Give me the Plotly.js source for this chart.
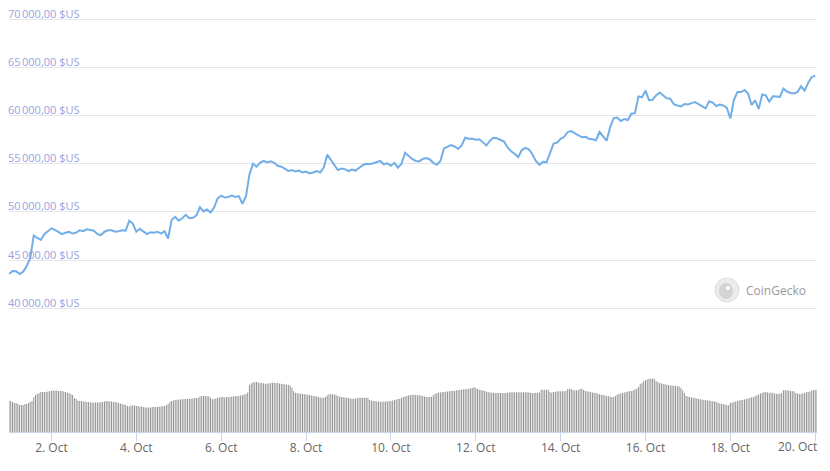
<!DOCTYPE html>
<html>
<head>
<meta charset="utf-8">
<script src="https://cdn.plot.ly/plotly-3.0.1.min.js"></script>
<style>html,body{margin:0;padding:0;background:#fff;}#chart{width:830px;height:471px;}</style>
</head>
<body>
<div id="chart"></div>
<script>
// Start of series: 1 Oct 2021 00:00 (UTC), price sampled every 2 hours, volume every hour
const startTime = '2021-10-01T00:00:00';
const priceStepHours = 2;
const volumeStepHours = 1;

// BTC price in USD, every 2 hours from 1 Oct 00:00 to 20 Oct 00:00
const priceValues = [
  // 1 Oct
  43550, 43880, 43850, 43550, 43800, 44400, 45200, 47550, 47300, 47100, 47700, 48000,
  // 2 Oct
  48300, 48150, 47900, 47700, 47850, 47930, 47760, 47850, 48100, 48000, 48200, 48150,
  // 3 Oct
  48050, 47700, 47600, 47950, 48100, 48100, 47950, 48000, 48100, 48050, 49100, 48800,
  // 4 Oct
  47950, 48250, 48000, 47700, 47900, 47850, 47950, 47750, 48000, 47250, 49200, 49500,
  // 5 Oct
  49100, 49350, 49700, 49350, 49400, 49650, 50500, 50050, 50250, 49950, 50450, 51400,
  // 6 Oct
  51700, 51500, 51550, 51700, 51550, 51650, 50850, 51600, 53900, 55000, 54700, 55100,
  // 7 Oct
  55300, 55150, 55250, 55100, 54800, 54700, 54500, 54250, 54350, 54200, 54300, 54100,
  // 8 Oct
  54200, 54000, 54100, 54250, 54100, 54600, 55950, 55450, 54900, 54350, 54500, 54450,
  // 9 Oct
  54250, 54400, 54300, 54550, 54850, 55000, 54950, 55050, 55200, 55300, 54950, 55050,
  // 10 Oct
  54800, 55100, 54600, 55000, 56150, 55800, 55500, 55300, 55250, 55500, 55600, 55450,
  // 11 Oct
  55100, 54900, 55300, 56600, 56750, 56950, 56800, 56550, 56900, 57700, 57600, 57600,
  // 12 Oct
  57500, 57550, 57250, 56900, 57400, 57700, 57650, 57450, 57300, 56700, 56300, 56050,
  // 13 Oct
  55700, 56400, 56650, 56500, 56000, 55300, 54900, 55200, 55150, 56100, 57100, 57200,
  // 14 Oct
  57600, 57800, 58300, 58400, 58200, 58000, 57750, 57800, 57600, 57550, 57450, 58300,
  // 15 Oct
  57800, 57400, 58800, 59750, 59800, 59450, 59650, 59550, 60200, 60250, 62000, 61900,
  // 16 Oct
  62600, 61600, 61650, 62100, 62400, 62050, 61800, 61750, 61200, 61050, 60950, 61200,
  // 17 Oct
  61150, 61300, 61400, 61200, 61000, 60750, 61500, 61350, 61000, 61150, 61050, 60800,
  // 18 Oct
  59700, 61650, 62450, 62450, 62650, 62300, 61100, 61600, 60700, 62200, 62100, 61450,
  // 19 Oct
  62000, 62000, 61950, 62800, 62500, 62350, 62300, 62450, 63050, 62600, 63400, 64000,
  // 20 Oct
  64150
];

// Hourly trading volume (relative units)
const volumeValues = [
  // 1 Oct
  31,31,30,29,29,28,27,27,27,28,28,29,30,31,35,37,38,39,40,40,40,40,40.5,41,
  // 2 Oct
  41,41.5,41.5,41.5,41,41,41,40.5,40,39.5,39,38,37,34,33,31.5,31,31,30.5,30.5,30,30,29.5,29.5,
  // 3 Oct
  29.5,29.5,29.5,29.5,30,30,30.5,31,31,30.5,30.5,30,30,29.5,29,28.5,28,27.5,27,26,25.5,26.5,26.5,26.5,
  // 4 Oct
  26,26,25.5,25.5,25,24.5,24.5,24.5,24.5,25,25,25,25,25.5,25.5,26,26,27,28,30,31,31.5,32,32.3,
  // 5 Oct
  32.5,32.5,32.7,33,33,33,33.3,33.3,33.5,34,34,34,35.5,36,36,36,35.7,35.7,34,32.7,33,33.5,34.3,34.5,
  // 6 Oct
  35,35,34.5,35,35,35,35.5,35.5,36,36,36,36.5,37,37.5,38,39.5,47,48.5,49.5,50,50,49.5,49,49,
  // 7 Oct
  48.5,48.3,48.3,48.5,49,49.3,49.3,49,49,48.5,48.3,48,47.5,47.5,47.3,46.5,44.3,41,39.3,39,38.5,38.3,38,38,
  // 8 Oct
  37.5,37.3,37,36.5,36,36,35.5,35,34.5,34.3,34.3,35,36.5,37.7,37.7,37.7,37.5,37.3,36,35.5,35,35,34.5,34.3,
  // 9 Oct
  34,33.5,33.3,33.3,33.5,34,34.3,34.3,34.3,34.3,34.3,34,32,31.5,31,31,30.5,30.5,30.3,30.3,30.3,30.5,30.7,30.7,
  // 10 Oct
  31,31.5,32,32.5,33,33.3,34,35,35.5,36,36.5,37,37.3,37.3,37,37,36.7,36.5,36,35.5,35,35,35,35,
  // 11 Oct
  37,38.3,39,39.5,39.5,40,40,40.3,40.5,40.7,41,41,41.3,41.7,41.7,42,42.3,42.7,42.7,43,43.3,43.5,44,45,
  // 12 Oct
  44,43,42.3,42,41.5,41,40.5,40,39.5,39.3,39.3,39,39,39,39,39,39,39,39.3,39.5,39.7,39.7,39.7,39.7,
  // 13 Oct
  39.7,39.7,39.7,39.7,39.7,39.7,39.5,39.3,39,39,39.3,39.3,39.5,42.3,42.3,42.3,42.3,42.3,40,39.3,40,40.3,40.7,40.7,
  // 14 Oct
  40.7,40.7,40.7,41,43,43.3,43,42,41.7,41.7,42,43.3,43.3,42,41,40.7,40.3,40,39.5,39.3,39,38.3,37.7,37.3,
  // 15 Oct
  37,36.5,36,35.7,35.3,35,35,36,37.3,38,38.5,39,39.5,40,40.5,40.7,41,41.5,42.5,43.3,45,47.7,49,51,
  // 16 Oct
  51.7,52.5,53.3,53.3,53.3,53.3,51,50,49,48.5,48,47.7,47.3,47,46.7,46.5,46.3,46,45.7,45.5,44,41.7,39,36,
  // 17 Oct
  35.5,35,34.5,34.3,34,33.5,33,32.7,32.5,32,31.7,31.7,31.5,31,30.7,30.7,30,29.5,28.5,28.3,28,27.5,27,26.7,
  // 18 Oct
  29,29.5,30,30.5,31,31.5,32,32.3,32.5,33,33.5,34,34.5,35,36,36.7,37.5,38.5,39,40,40,39.5,39.3,39.3,
  // 19 Oct
  39,38.5,38.3,38.3,38.3,39,41.7,41.7,41.7,41.5,41,41,40.5,39,38.5,38.3,38.3,38.5,39,40,40,40.5,41.5,41.7,
  // 20 Oct
  42.3,42.3
];

const priceTickValues = [40000, 45000, 50000, 55000, 60000, 65000, 70000];
const xTickDates = ['2021-10-02', '2021-10-04', '2021-10-06', '2021-10-08', '2021-10-10',
                    '2021-10-12', '2021-10-14', '2021-10-16', '2021-10-18', '2021-10-20'];
const xTickLabels = ['2. Oct', '4. Oct', '6. Oct', '8. Oct', '10. Oct',
                     '12. Oct', '14. Oct', '16. Oct', '18. Oct', '20. Oct'];

function fmtPrice(v) {
  const s = String(Math.round(v));
  const withSep = s.replace(/\B(?=(\d{3})+(?!\d))/g, '\u202f');
  return withSep + ',00 $US';
}
function timeAt(hoursFromStart) {
  const t0 = Date.parse(startTime + 'Z');
  const d = new Date(t0 + hoursFromStart * 3600 * 1000);
  return d.toISOString().slice(0, 19).replace('T', ' ');
}

const priceX = priceValues.map((_, i) => timeAt(i * priceStepHours));
const volumeX = volumeValues.map((_, i) => timeAt(i * volumeStepHours));

const traces = [
  {
    type: 'bar', x: volumeX, y: volumeValues, xaxis: 'x', yaxis: 'y2',
    marker: {color: '#8f8f8f', line: {width: 0}}, hoverinfo: 'skip'
  },
  {
    type: 'scatter', mode: 'lines', x: priceX, y: priceValues, xaxis: 'x', yaxis: 'y',
    line: {color: '#72aee8', width: 2}, hoverinfo: 'skip'
  }
];

// price axis labels drawn inside the plot, above their grid lines
const priceLabelAnnotations = priceTickValues.map(v => ({
  xref: 'paper', yref: 'y', x: 0, y: v, xanchor: 'left', yanchor: 'middle',
  xshift: -3, yshift: 6, showarrow: false, text: fmtPrice(v),
  font: {size: 11, color: '#97a3e0', family: '"Open Sans", "Noto Sans", sans-serif'}
}));

// the last date label is pulled left so it stays inside the chart (as in the original)
const lastIdx = xTickLabels.length - 1;
const shownTickText = xTickLabels.map((t, i) => (i === lastIdx ? '' : t));
const lastDateAnnotation = {
  xref: 'x', yref: 'paper', x: xTickDates[lastIdx], y: -0.0344,
  xanchor: 'right', yanchor: 'middle', xshift: 4, showarrow: false,
  text: xTickLabels[lastIdx],
  font: {size: 12, color: '#666666', family: '"Open Sans", "Noto Sans", sans-serif'}
};

const layout = {
  width: 830, height: 471,
  margin: {l: 9, r: 13, t: 10, b: 39},
  paper_bgcolor: '#ffffff', plot_bgcolor: '#ffffff',
  showlegend: false, bargap: 0.45,
  font: {family: '"Open Sans", "Noto Sans", sans-serif'},
  xaxis: {
    type: 'date', anchor: 'y2',
    range: ['2021-10-01 00:00', '2021-10-20 01:00'],
    showgrid: false, zeroline: false,
    showline: true, linecolor: '#ccd6eb', linewidth: 1,
    ticks: 'outside', ticklen: 8, tickcolor: '#ccd6eb', tickwidth: 1,
    tickmode: 'array', tickvals: xTickDates, ticktext: shownTickText,
    ticklabelstandoff: -3,
    tickfont: {size: 12, color: '#666666'}
  },
  yaxis: {
    domain: [0.2654, 1], range: [38786, 70965],
    tickmode: 'array', tickvals: priceTickValues, showticklabels: false,
    showgrid: true, gridcolor: '#e6e6e6', gridwidth: 1,
    zeroline: false, showline: false, ticks: ''
  },
  yaxis2: {
    domain: [0, 0.2], range: [0, 84.4],
    showgrid: false, zeroline: false, showticklabels: false, showline: false, ticks: ''
  },
  shapes: [
    {type: 'circle', xref: 'paper', yref: 'paper',
     x0: (715 - 9) / 808, x1: (739 - 9) / 808, y0: (432 - 302) / 422, y1: (432 - 278) / 422,
     fillcolor: '#ececec', line: {color: '#dcdcdc', width: 1}, layer: 'above'},
    {type: 'circle', xref: 'paper', yref: 'paper',
     x0: (719 - 9) / 808, x1: (733 - 9) / 808, y0: (432 - 299) / 422, y1: (432 - 283) / 422,
     fillcolor: '#d4d4d4', line: {width: 0}, layer: 'above'},
    {type: 'circle', xref: 'paper', yref: 'paper',
     x0: (726 - 9) / 808, x1: (730 - 9) / 808, y0: (432 - 290) / 422, y1: (432 - 286) / 422,
     fillcolor: '#ffffff', line: {width: 0}, layer: 'above'}
  ],
  annotations: priceLabelAnnotations.concat([
    lastDateAnnotation,
    {xref: 'paper', yref: 'paper', x: (744 - 9) / 808, y: (432 - 290) / 422,
     xanchor: 'left', yanchor: 'middle', showarrow: false,
     text: 'CoinGecko', font: {size: 12, color: '#9a9a9a', family: '"Open Sans", sans-serif'}}
  ])
};

Plotly.newPlot('chart', traces, layout, {displayModeBar: false, staticPlot: true});
</script>
</body>
</html>
